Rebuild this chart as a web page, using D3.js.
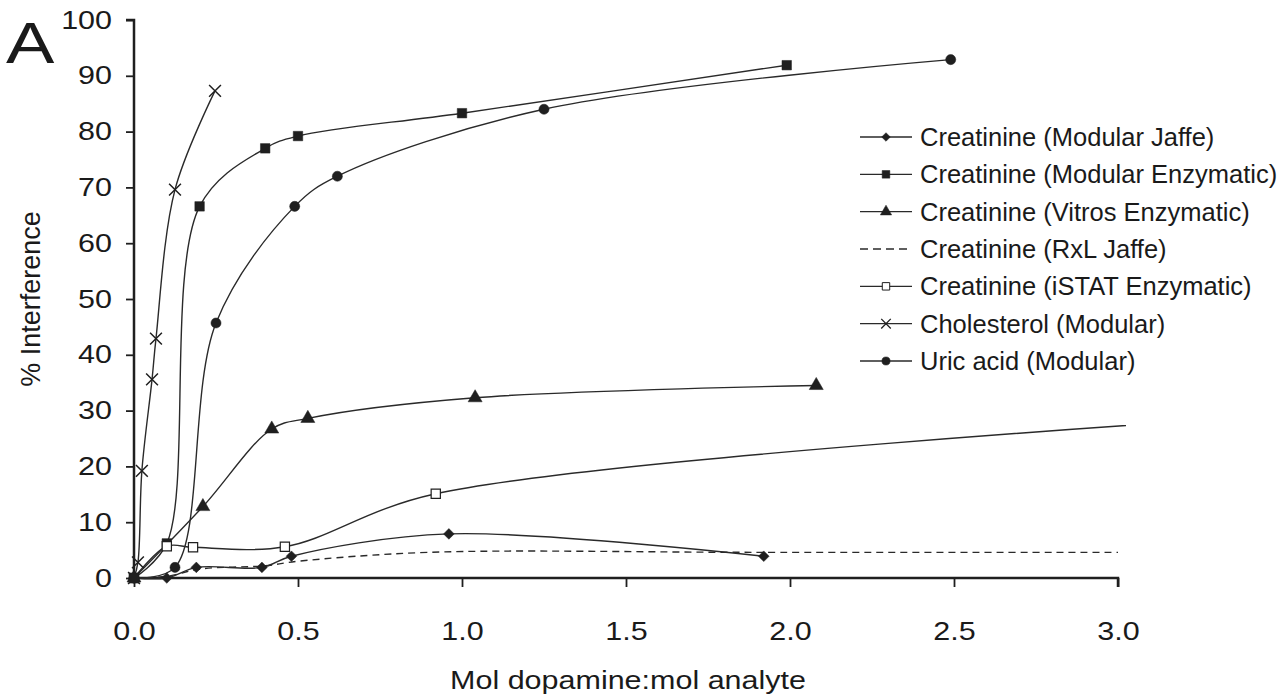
<!DOCTYPE html>
<html><head><meta charset="utf-8">
<script src="https://cdn.jsdelivr.net/npm/d3@7"></script>
<style>
body{margin:0;background:#fff}
svg{display:block}
text{font-family:"Liberation Sans",Arial,Helvetica,sans-serif;fill:#1a1a1a}
</style>
</head><body>
<svg id="chart" width="1284" height="696"></svg>
<script>
// ---- data ----
const seriesNames = [
  "Creatinine (Modular Jaffe)",
  "Creatinine (Modular Enzymatic)",
  "Creatinine (Vitros Enzymatic)",
  "Creatinine (RxL Jaffe)",
  "Creatinine (iSTAT Enzymatic)",
  "Cholesterol (Modular)",
  "Uric acid (Modular)"
];
const modularJaffeX = [0, 0.10, 0.19, 0.39, 0.48, 0.96, 1.92];
const modularJaffeY = [0, 0, 1.9, 1.9, 3.9, 7.9, 3.9];
const modularEnzX = [0, 0.10, 0.20, 0.40, 0.50, 1.00, 1.99];
const modularEnzY = [0, 6.2, 66.6, 77.0, 79.2, 83.3, 91.9];
const vitrosX = [0, 0.21, 0.42, 0.53, 1.04, 2.08];
const vitrosY = [0, 12.8, 26.7, 28.6, 32.3, 34.5];
const rxlX = [0, 0.10, 0.20, 0.40, 0.50, 0.90, 1.90, 3.00];
const rxlY = [0, 0.3, 1.6, 2.2, 3.0, 4.6, 4.6, 4.6];
const istatX = [0, 0.10, 0.18, 0.46, 0.92, 3.30];
const istatY = [0, 5.7, 5.5, 5.6, 15.1, 28.4];
const cholX = [0, 0.012, 0.024, 0.055, 0.067, 0.125, 0.247];
const cholY = [0, 2.8, 19.2, 35.6, 42.9, 69.6, 87.3];
const uricX = [0, 0.125, 0.25, 0.49, 0.62, 1.25, 2.49];
const uricY = [0, 1.9, 45.7, 66.6, 72.0, 84.0, 92.9];
const xTicks = [0, 0.5, 1.0, 1.5, 2.0, 2.5, 3.0];
const yTicks = [0, 10, 20, 30, 40, 50, 60, 70, 80, 90, 100];
const xTitle = "Mol dopamine:mol analyte";
const yTitle = "% Interference";
const panelLabel = "A";

// ---- layout ----
const svg = d3.select("#chart");
const L = 134, R = 1118, T = 20, B = 578;
const x = d3.scaleLinear().domain([0, 3]).range([L, R]);
const y = d3.scaleLinear().domain([0, 100]).range([B, T]);
const ink = "#1f1f1f";
const stretch = 1.22;

const xSym = {draw(ctx, size){const r = Math.sqrt(size)/2; ctx.moveTo(-r,-r); ctx.lineTo(r,r); ctx.moveTo(-r,r); ctx.lineTo(r,-r);}};
const diaSym = {draw(ctx, size){const r = Math.sqrt(size)/1.45; ctx.moveTo(0,-r); ctx.lineTo(r,0); ctx.lineTo(0,r); ctx.lineTo(-r,0); ctx.closePath();}};
const styles = [
  {xs: modularJaffeX, ys: modularJaffeY, sym: diaSym, size: 60, fill: ink, dash: null},
  {xs: modularEnzX, ys: modularEnzY, sym: d3.symbolSquare, size: 90, fill: ink, dash: null},
  {xs: vitrosX, ys: vitrosY, sym: d3.symbolTriangle, size: 85, fill: ink, dash: null},
  {xs: rxlX, ys: rxlY, sym: null, size: 0, fill: ink, dash: "7,5"},
  {xs: istatX, ys: istatY, sym: d3.symbolSquare, size: 85, fill: "#fff", dash: null},
  {xs: cholX, ys: cholY, sym: xSym, size: 140, fill: "none", dash: null},
  {xs: uricX, ys: uricY, sym: d3.symbolCircle, size: 80, fill: ink, dash: null}
];

svg.append("defs").append("clipPath").attr("id","plotclip")
  .append("rect").attr("x", L - 10).attr("y", T - 10).attr("width", R - L + 18).attr("height", B - T + 20);

// axes
const yAxis = d3.axisLeft(y).tickValues(yTicks).tickSize(8).tickPadding(12).tickFormat(d3.format("d"));
const gy = svg.append("g").attr("transform", `translate(${L},0)`).call(yAxis);
const xAxis = d3.axisBottom(x).tickValues(xTicks).tickSize(9).tickPadding(35).tickFormat(d3.format(".1f"));
const gx = svg.append("g").attr("transform", `translate(0,${B})`).call(xAxis);
[gx, gy].forEach(g => {
  g.select(".domain").attr("stroke", ink).attr("stroke-width", 2.5);
  g.selectAll(".tick line").attr("stroke", ink).attr("stroke-width", 1.8);
  g.selectAll(".tick text").attr("font-size", 25).attr("fill", "#1a1a1a")
    .style("font-family", '"Liberation Sans",Arial,sans-serif');
});
gx.selectAll(".tick text").attr("transform", `scale(${stretch},1)`);
gy.selectAll(".tick text").attr("x", -22 / stretch).attr("transform", `scale(${stretch},1)`);
gy.select(".domain").attr("d", `M-8,${T}H0V${B}`);
gx.select(".domain").attr("d", `M${L},0H${R}V9`);

// lines
const line = d3.line().curve(d3.curveCatmullRom.alpha(0.5)).x(d => x(d[0])).y(d => y(d[1]));
const plot = svg.append("g").attr("clip-path", "url(#plotclip)");
styles.forEach(s => {
  const pts = s.xs.map((v, i) => [v, s.ys[i]]);
  plot.append("path").datum(pts).attr("d", line)
    .attr("fill", "none").attr("stroke", "#2a2a2a").attr("stroke-width", 1.4)
    .attr("stroke-dasharray", s.dash);
});
styles.forEach(s => {
  if (!s.sym) return;
  const pts = s.xs.map((v, i) => [v, s.ys[i]]);
  plot.selectAll(null).data(pts).enter().append("path")
    .attr("transform", d => `translate(${x(d[0])},${y(d[1])})`)
    .attr("d", d3.symbol().type(s.sym).size(s.size))
    .attr("fill", s.fill).attr("stroke", ink).attr("stroke-width", s.fill === "#fff" ? 1.2 : (s.fill === "none" ? 1.5 : 0.5));
});

// legend
const lg = svg.append("g");
const rowY = d3.scaleLinear().domain([0, 6]).range([137, 361]);
seriesNames.forEach((name, i) => {
  const s = styles[i];
  const cy = rowY(i);
  lg.append("line").attr("x1", 860).attr("x2", 912).attr("y1", cy).attr("y2", cy)
    .attr("stroke", "#2a2a2a").attr("stroke-width", 1.4).attr("stroke-dasharray", s.dash ? "8,5" : null);
  if (s.sym) {
    lg.append("path").attr("transform", `translate(886,${cy})`)
      .attr("d", d3.symbol().type(s.sym).size(s.size * 0.65))
      .attr("fill", s.fill).attr("stroke", ink).attr("stroke-width", s.fill === "#fff" ? 1 : (s.fill === "none" ? 1.3 : 0.5));
  }
  lg.append("text").attr("x", 920).attr("y", cy + 9).attr("font-size", 25.5).text(name);
});

// titles
svg.append("text").attr("transform", `translate(${(L + R) / 2 + 2},689) scale(${stretch},1)`)
  .attr("text-anchor", "middle").attr("font-size", 25).text(xTitle);
svg.append("text").attr("transform", `translate(40,${(T + B) / 2}) rotate(-90)`)
  .attr("text-anchor", "middle").attr("font-size", 27).text(yTitle);
svg.append("text").attr("transform", "translate(6,63) scale(1.25,1)").attr("font-size", 58).text(panelLabel);
</script>
</body></html>
